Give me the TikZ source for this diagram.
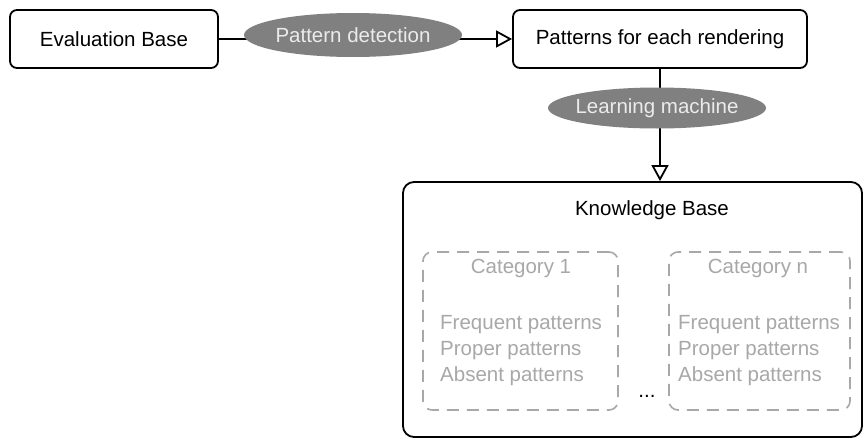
\documentclass[tikz,border=0pt]{standalone}
\usepackage{fontspec}
\setmainfont{Liberation Sans}
\usetikzlibrary{arrows.meta,shapes.geometric}
\definecolor{ellfill}{HTML}{808080}
\definecolor{elltext}{HTML}{EBEBEB}
\definecolor{catgray}{HTML}{A8A8A8}
\begin{document}
\begin{tikzpicture}[x=1pt,y=-1pt,
  box/.style={draw=black,line width=1.8pt,rounded corners=7pt,fill=white},
  ell/.style={ellipse,fill=ellfill,draw=none,inner sep=0pt},
  cat/.style={draw=catgray,line width=1.6pt,dash pattern=on 12pt off 8pt,rounded corners=9pt},
  conn/.style={line width=1.8pt,-{Triangle[open,length=16pt,width=17pt,line width=1.8pt]}},
  txt/.style={font=\fontsize{20.5}{24}\selectfont},
  gtxt/.style={font=\fontsize{20.5}{24}\selectfont,text=catgray,anchor=west,inner sep=0pt}
]
\useasboundingbox (0,0) rectangle (865,439);
\node[box,txt,minimum width=208pt,minimum height=58pt] (eb) at (114,39) {Evaluation Base};
\node[box,txt,minimum width=294pt,minimum height=58pt] (pfr) at (660,39) {Patterns for each rendering};
\node[box,minimum width=459pt,minimum height=255pt,rounded corners=11pt] (kb) at (632.5,309.5) {};
\node[txt,anchor=north] (kbt) at (652,197) {Knowledge Base};
\draw[conn] (eb.east) -- (pfr.west);
\draw[conn] (pfr.south) -- (kb.north -| pfr.south);
\node[ell,minimum width=218pt,minimum height=44pt] (pd) at (353,35) {};
\node[txt,text=elltext] (pdt) at (pd.center) {Pattern detection};
\node[ell,minimum width=218pt,minimum height=41pt] (lm) at (657,108) {};
\node[txt,text=elltext] (lmt) at (lm.center) {Learning machine};
\node[cat,minimum width=195pt,minimum height=158pt] (c1) at (520.5,331) {};
\node[cat,minimum width=181pt,minimum height=158pt] (cn) at (759.5,331) {};
\node[txt,text=catgray,anchor=center] (c1t) at (521,268) {Category 1};
\node[txt,text=catgray,anchor=center] (cnt) at (758,268) {Category n};
\node[gtxt] (f1) at (440,325) {Frequent patterns};
\node[gtxt] (p1) at (440,351) {Proper patterns};
\node[gtxt] (a1) at (440,376) {Absent patterns};
\node[gtxt] (fn) at (678,325) {Frequent patterns};
\node[gtxt] (pn) at (678,351) {Proper patterns};
\node[gtxt] (an) at (678,376) {Absent patterns};
\node[txt] (dots) at (647,396) {...};
\end{tikzpicture}
\end{document}
